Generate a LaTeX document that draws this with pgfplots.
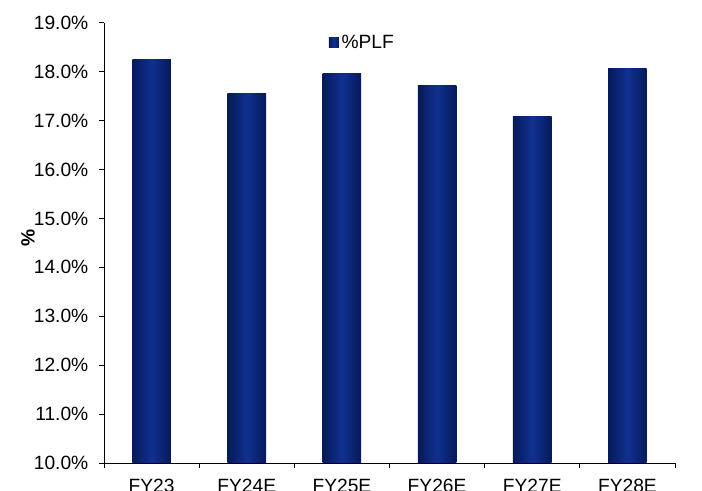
\documentclass[border=0pt]{standalone}
\usepackage{fontspec}
\setmainfont{Liberation Sans}
\usepackage{pgfplots}
\pgfplotsset{compat=1.18}

\definecolor{barDark}{RGB}{6,26,90}
\definecolor{barLight}{RGB}{16,48,145}

% each bar is its own plot so that the cylinder-like shading fits each bar
\pgfplotsset{plfbar/.style={ybar, bar width=28.9pt, bar shift=0pt, draw=none,
  left color=barDark, right color=barDark, middle color=barLight}}

\begin{document}
\begin{tikzpicture}[x=0.75pt,y=0.75pt]
\path[use as bounding box, clip] (-104,-28) rectangle (598,463);
\begin{axis}[
  at={(0,0)}, anchor=south west,
  scale only axis,
  width=428.25pt, height=330.2pt,
  xmin=-0.5, xmax=5.5,
  ymin=10, ymax=19,
  axis x line=bottom, axis y line=left,
  axis line style={-, black, line width=0.6pt},
  xtick={0,...,5},
  xticklabels={FY23,FY24E,FY25E,FY26E,FY27E,FY28E},
  minor xtick={-0.5,0.5,...,5.5},
  ytick={10,11,...,19},
  yticklabel={\pgfmathprintnumber[fixed,fixed zerofill,precision=1]{\tick}\%},
  /pgf/number format/assume math mode=true,
  tick align=outside,
  major tick length=3.75pt,
  minor tick length=3.75pt,
  x tick style={draw=none},
  minor x tick style={draw=black, line width=0.6pt},
  y tick style={black, line width=0.6pt},
  tick label style={font=\fontsize{14.4}{17}\selectfont},
  xticklabel style={yshift=-5pt},
  yticklabel style={xshift=-4.5pt},
  ylabel={\textbf{\%}},
  ylabel style={at={(axis description cs:-0.133,0.511)}, anchor=center, font=\fontsize{14.4}{17}\selectfont},
  legend style={draw=none, fill=none, at={(0.453,0.954)}, anchor=center,
    font=\fontsize{14.4}{17}\selectfont},
  legend image code/.code={\fill[barLight!85!barDark] (0pt,-3.75pt) rectangle (7.5pt,3.75pt);},
]
\addplot[plfbar] coordinates {(0,18.24)};
\addlegendentry{\%PLF}
\addplot[plfbar, forget plot] coordinates {(1,17.56)};
\addplot[plfbar, forget plot] coordinates {(2,17.97)};
\addplot[plfbar, forget plot] coordinates {(3,17.71)};
\addplot[plfbar, forget plot] coordinates {(4,17.09)};
\addplot[plfbar, forget plot] coordinates {(5,18.07)};
\end{axis}
\end{tikzpicture}
\end{document}
